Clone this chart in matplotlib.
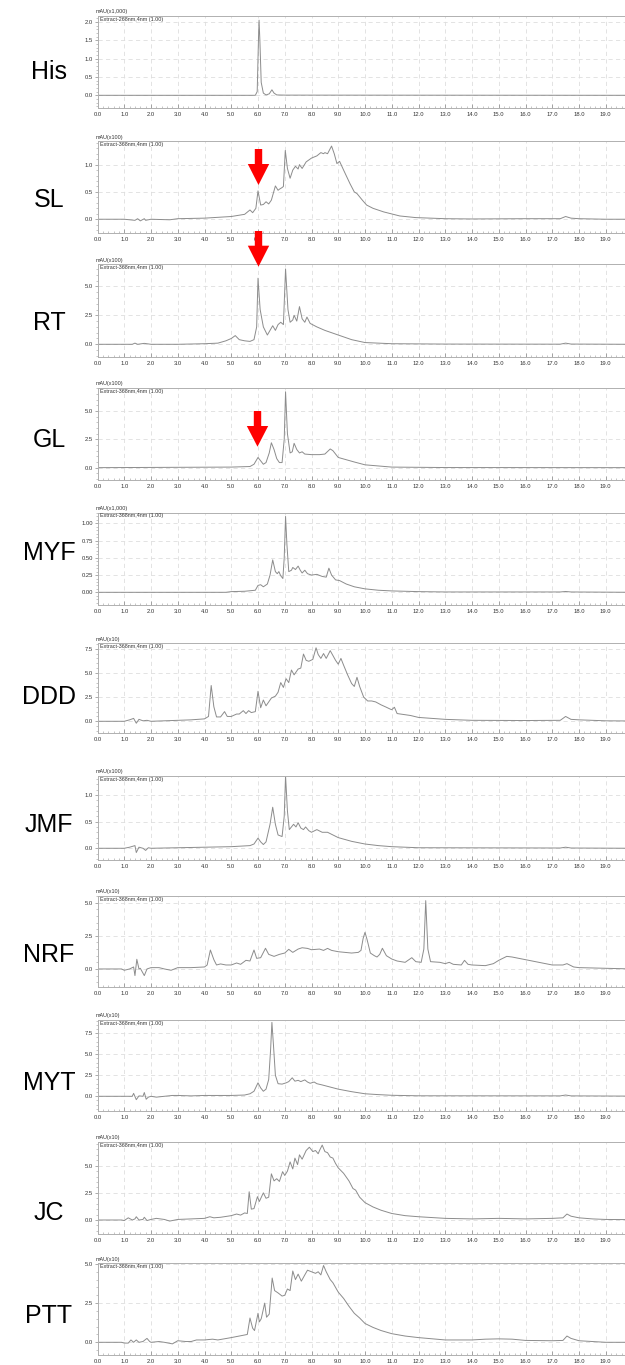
import matplotlib
matplotlib.use('Agg')
import matplotlib.pyplot as plt
from matplotlib.patches import Polygon
from matplotlib.ticker import MultipleLocator

plt.rcParams['font.family'] = ['Liberation Sans', 'DejaVu Sans']

W, H = 625, 1365

# Tên mẫu và nhãn thang đo
names = ['His', 'SL', 'RT', 'GL', 'MYF', 'DDD', 'JMF', 'NRF', 'MYT', 'JC', 'PTT']
scales = ['mAU(x1,000)', 'mAU(x100)', 'mAU(x100)', 'mAU(x100)', 'mAU(x1,000)', 'mAU(x10)',
          'mAU(x100)', 'mAU(x10)', 'mAU(x10)', 'mAU(x10)', 'mAU(x10)']
extracts = ['Extract-268nm,4nm (1.00)'] + ['Extract-368nm,4nm (1.00)'] * 10
ytick_vals = [[0, 0.5, 1.0, 1.5, 2.0], [0, 0.5, 1.0], [0, 2.5, 5.0], [0, 2.5, 5.0],
              [0, 0.25, 0.5, 0.75, 1.0], [0, 2.5, 5.0, 7.5], [0, 0.5, 1.0], [0, 2.5, 5.0],
              [0, 2.5, 5.0, 7.5], [0, 2.5, 5.0], [0, 2.5, 5.0]]
ytick_fmt = ['{:.1f}', '{:.1f}', '{:.1f}', '{:.1f}', '{:.2f}', '{:.1f}', '{:.1f}', '{:.1f}',
             '{:.1f}', '{:.1f}', '{:.1f}']
ylims = [(-0.333, 2.164), (-0.252, 1.429), (-1.07, 6.90), (-1.09, 7.06), (-0.184, 1.154),
         (-1.21, 8.06), (-0.22, 1.356), (-1.36, 5.5), (-1.75, 9.08), (-1.29, 7.21), (-0.81, 5.04)]

# Dữ liệu sắc ký đồ (thời gian, tín hiệu)
his_t = [0, 5.9, 5.97, 6.02, 6.04, 6.07, 6.12, 6.2, 6.3, 6.42, 6.52, 6.6, 6.7, 7.0, 20]
his_v = [0, 0, 0.1, 1.6, 2.05, 1.5, 0.35, 0.06, 0.01, 0.04, 0.15, 0.06, 0.01, 0.005, 0]

sl_t = [0, 1.0, 1.2, 1.4, 1.5, 1.6, 1.75, 1.8, 2.0, 2.7, 3.0, 4.0, 5.0, 5.5, 5.7, 5.8, 5.92, 6.0,
        6.1, 6.2, 6.3, 6.4, 6.5, 6.65, 6.75, 6.8, 6.9, 6.95, 7.02, 7.1, 7.2, 7.3, 7.4, 7.5, 7.55,
        7.65, 7.8, 8.0, 8.2, 8.35, 8.45, 8.5, 8.6, 8.75, 8.85, 8.95, 9.05, 9.2, 9.44, 9.6, 9.7,
        9.9, 10.06, 10.3, 10.7, 11.3, 11.9, 13.0, 14.0, 16.0, 17.3, 17.5, 17.7, 18.0, 19.0, 20]
sl_v = [0, 0, -0.01, -0.02, 0.01, -0.03, 0.01, -0.02, 0, -0.01, 0.01, 0.02, 0.05, 0.09, 0.17,
        0.12, 0.2, 0.52, 0.26, 0.27, 0.32, 0.28, 0.35, 0.61, 0.53, 0.55, 0.58, 0.6, 1.26, 0.93,
        0.75, 0.9, 0.97, 0.92, 1.0, 0.93, 1.05, 1.12, 1.16, 1.22, 1.2, 1.22, 1.2, 1.34, 1.2, 1.02,
        1.06, 0.9, 0.65, 0.5, 0.47, 0.35, 0.26, 0.2, 0.134, 0.06, 0.03, 0.01, 0.005, 0.01, 0.01,
        0.05, 0.02, 0.01, 0.0, 0]

rt_t = [0, 1.3, 1.4, 1.5, 1.75, 2.0, 3.0, 4.0, 4.5, 4.8, 5.0, 5.15, 5.3, 5.5, 5.7, 5.85, 5.95,
        6.0, 6.08, 6.2, 6.35, 6.45, 6.55, 6.65, 6.75, 6.85, 6.95, 7.03, 7.12, 7.2, 7.3, 7.35,
        7.45, 7.55, 7.65, 7.75, 7.83, 7.95, 8.2, 8.5, 8.75, 9.0, 9.5, 10.0, 11.0, 13.0, 17.3,
        17.5, 17.7, 20]
rt_v = [0, 0, 0.1, 0, 0.08, 0, 0, 0.05, 0.1, 0.3, 0.5, 0.75, 0.4, 0.3, 0.25, 0.4, 1.5, 5.7, 3.0,
        1.5, 0.8, 1.2, 1.6, 1.2, 1.7, 1.9, 1.7, 6.5, 3.0, 1.9, 2.1, 2.5, 2.0, 3.25, 2.2, 1.9,
        2.35, 1.8, 1.5, 1.2, 1.0, 0.8, 0.4, 0.15, 0.05, 0.02, 0.01, 0.1, 0.02, 0]

gl_t = [0, 5.0, 5.7, 5.85, 5.95, 6.0, 6.1, 6.2, 6.3, 6.42, 6.5, 6.6, 6.7, 6.8, 6.9, 6.98, 7.03,
        7.1, 7.2, 7.28, 7.35, 7.45, 7.55, 7.65, 7.75, 8.0, 8.3, 8.5, 8.7, 8.8, 9.0, 9.3, 9.6,
        10.0, 10.5, 11.0, 13.0, 20]
gl_v = [0, 0.05, 0.1, 0.3, 0.7, 0.9, 0.6, 0.3, 0.45, 1.3, 2.2, 1.6, 0.8, 0.45, 0.45, 2.5, 6.7,
        3.0, 1.3, 1.4, 2.15, 1.6, 1.3, 1.4, 1.2, 1.15, 1.15, 1.2, 1.65, 1.5, 0.9, 0.7, 0.5, 0.25,
        0.15, 0.05, 0.01, 0]

myf_t = [0, 4.8, 5.0, 5.5, 5.9, 6.0, 6.1, 6.2, 6.35, 6.45, 6.55, 6.65, 6.72, 6.78, 6.85, 6.93,
         6.98, 7.03, 7.08, 7.15, 7.25, 7.3, 7.4, 7.5, 7.58, 7.65, 7.75, 7.85, 8.0, 8.2, 8.4,
         8.55, 8.65, 8.75, 8.9, 9.05, 9.3, 9.6, 10.0, 10.5, 11.0, 12.0, 13.0, 17.3, 17.5, 17.7, 20]
myf_v = [0, 0, 0.01, 0.015, 0.03, 0.1, 0.11, 0.08, 0.12, 0.25, 0.47, 0.3, 0.27, 0.3, 0.24, 0.2,
         0.5, 1.1, 0.7, 0.3, 0.32, 0.36, 0.33, 0.38, 0.32, 0.28, 0.32, 0.27, 0.25, 0.26, 0.23,
         0.22, 0.35, 0.25, 0.18, 0.17, 0.12, 0.08, 0.05, 0.03, 0.02, 0.01, 0.005, 0.005, 0.012,
         0.005, 0]

ddd_t = [0, 1.0, 1.2, 1.35, 1.45, 1.55, 1.7, 1.85, 2.0, 3.0, 3.5, 4.0, 4.15, 4.25, 4.35, 4.45,
         4.6, 4.75, 4.85, 5.0, 5.2, 5.3, 5.45, 5.55, 5.65, 5.75, 5.9, 6.0, 6.1, 6.2, 6.3, 6.4,
         6.5, 6.65, 6.75, 6.85, 6.95, 7.05, 7.15, 7.25, 7.35, 7.5, 7.6, 7.7, 7.8, 7.9, 8.05,
         8.17, 8.25, 8.35, 8.45, 8.55, 8.7, 8.8, 8.9, 9.0, 9.1, 9.2, 9.35, 9.5, 9.6, 9.7, 9.8,
         9.95, 10.1, 10.25, 10.4, 10.6, 10.8, 10.95, 11.0, 11.1, 11.2, 11.7, 12.0, 13.0, 14.0,
         16.0, 17.3, 17.5, 17.7, 18.0, 19.0, 20]
ddd_v = [0, 0, 0.15, 0.3, -0.2, 0.2, 0.05, 0.1, 0, 0.1, 0.15, 0.25, 0.5, 3.7, 1.5, 0.45, 0.45,
         1.0, 0.5, 0.5, 0.75, 0.75, 1.1, 0.8, 1.1, 0.9, 1.0, 3.1, 1.4, 2.2, 1.6, 2.0, 2.4, 2.6,
         3.0, 4.0, 3.5, 4.4, 4.0, 5.3, 4.8, 5.4, 5.5, 6.95, 6.3, 6.2, 6.4, 7.6, 6.9, 6.5, 7.0,
         6.5, 7.3, 6.8, 6.3, 5.9, 6.5, 5.8, 4.8, 3.9, 3.6, 4.55, 3.6, 2.5, 2.1, 2.1, 2.0, 1.7,
         1.45, 1.25, 1.2, 1.45, 0.8, 0.6, 0.4, 0.2, 0.1, 0.08, 0.1, 0.5, 0.2, 0.15, 0.05, 0.03]

jmf_t = [0, 1.0, 1.2, 1.4, 1.45, 1.55, 1.7, 1.8, 1.9, 2.0, 3.0, 4.0, 5.0, 5.7, 5.85, 6.0, 6.1,
         6.2, 6.3, 6.45, 6.55, 6.65, 6.75, 6.9, 6.98, 7.03, 7.1, 7.17, 7.25, 7.33, 7.42, 7.5,
         7.6, 7.7, 7.78, 7.9, 8.0, 8.2, 8.4, 8.6, 8.8, 9.0, 9.5, 10.0, 10.5, 11.0, 12.0, 17.3,
         17.5, 17.7, 20]
jmf_v = [0, 0, 0.02, 0.05, -0.08, 0.02, 0.0, -0.04, 0.01, 0, 0.01, 0.02, 0.03, 0.05, 0.08, 0.19,
         0.12, 0.07, 0.12, 0.45, 0.77, 0.45, 0.25, 0.22, 0.6, 1.36, 0.7, 0.35, 0.4, 0.45, 0.4,
         0.48, 0.38, 0.35, 0.4, 0.33, 0.3, 0.35, 0.3, 0.3, 0.25, 0.2, 0.13, 0.08, 0.05, 0.03,
         0.01, 0.005, 0.02, 0.005, 0]

nrf_t = [0, 0.9, 1.0, 1.2, 1.35, 1.4, 1.47, 1.55, 1.6, 1.75, 1.85, 2.0, 2.3, 2.5, 2.75, 3.0, 3.5,
         4.0, 4.1, 4.22, 4.35, 4.45, 4.6, 4.8, 5.0, 5.2, 5.35, 5.55, 5.7, 5.85, 5.95, 6.1, 6.28,
         6.4, 6.6, 6.8, 7.0, 7.15, 7.3, 7.5, 7.65, 7.85, 8.0, 8.3, 8.45, 8.6, 8.75, 9.0, 9.5,
         9.75, 9.85, 9.93, 10.0, 10.08, 10.2, 10.35, 10.45, 10.55, 10.65, 10.8, 11.0, 11.2,
         11.5, 11.75, 11.9, 12.1, 12.2, 12.27, 12.35, 12.45, 12.8, 13.0, 13.15, 13.3, 13.6,
         13.72, 13.85, 14.0, 14.5, 14.8, 15.0, 15.3, 15.5, 16.0, 16.5, 17.0, 17.4, 17.55, 17.8,
         18.0, 19.0, 20]
nrf_v = [0, 0, -0.1, 0.0, 0.15, -0.5, 0.73, 0.0, 0.05, -0.5, 0.0, 0.1, 0.1, 0.0, -0.1, 0.1, 0.1,
         0.15, 0.3, 1.43, 0.7, 0.3, 0.38, 0.3, 0.3, 0.45, 0.35, 0.65, 0.6, 1.43, 0.8, 0.85, 1.56,
         1.1, 0.95, 1.1, 1.2, 1.48, 1.25, 1.5, 1.6, 1.55, 1.45, 1.5, 1.4, 1.55, 1.4, 1.3, 1.2,
         1.25, 1.4, 2.3, 2.76, 2.2, 1.2, 1.0, 0.9, 1.1, 1.56, 1.0, 0.75, 0.6, 0.5, 0.85, 0.55,
         0.5, 1.5, 5.15, 1.5, 0.55, 0.5, 0.4, 0.5, 0.35, 0.3, 0.65, 0.35, 0.3, 0.25, 0.4, 0.65,
         0.95, 0.9, 0.7, 0.5, 0.3, 0.3, 0.4, 0.15, 0.1, 0.05, 0.0]

myt_t = [0, 1.3, 1.35, 1.45, 1.55, 1.7, 1.75, 1.82, 1.9, 2.0, 2.2, 2.5, 2.8, 3.0, 3.5, 4.0, 5.0,
         5.5, 5.7, 5.85, 6.0, 6.1, 6.2, 6.3, 6.4, 6.47, 6.52, 6.58, 6.65, 6.75, 6.9, 7.05, 7.15,
         7.28, 7.38, 7.5, 7.6, 7.75, 7.85, 7.95, 8.1, 8.2, 8.4, 8.7, 9.0, 9.5, 10.0, 10.5, 11.0,
         12.0, 17.3, 17.5, 17.7, 20]
myt_v = [0, 0, 0.35, -0.4, 0.05, 0.0, 0.45, -0.35, -0.1, 0.0, -0.1, 0.0, 0.1, 0.1, 0.05, 0.1,
         0.1, 0.15, 0.3, 0.6, 1.6, 1.0, 0.6, 0.85, 2.0, 5.5, 8.8, 6.0, 2.5, 1.5, 1.45, 1.6, 1.75,
         2.2, 1.8, 1.9, 1.75, 1.95, 1.7, 1.55, 1.7, 1.5, 1.35, 1.1, 0.85, 0.55, 0.3, 0.2, 0.12,
         0.06, 0.05, 0.15, 0.05, 0.02]

jc_t = [0, 0.9, 1.0, 1.15, 1.3, 1.4, 1.45, 1.55, 1.7, 1.75, 1.85, 2.0, 2.2, 2.5, 2.7, 3.0, 3.5,
        4.0, 4.2, 4.35, 4.6, 5.0, 5.2, 5.35, 5.5, 5.6, 5.67, 5.75, 5.85, 5.98, 6.05, 6.2, 6.3,
        6.4, 6.5, 6.6, 6.7, 6.8, 6.92, 7.0, 7.1, 7.2, 7.3, 7.38, 7.48, 7.55, 7.65, 7.8, 7.92,
        8.05, 8.15, 8.25, 8.3, 8.4, 8.5, 8.6, 8.7, 8.8, 8.9, 9.0, 9.2, 9.4, 9.55, 9.65, 9.8,
        10.0, 10.3, 10.6, 11.0, 11.5, 12.0, 13.0, 14.0, 15.0, 16.0, 17.0, 17.4, 17.55, 17.7,
        18.0, 18.5, 19.0, 20]
jc_v = [0, 0, -0.05, 0.2, 0.0, 0.1, 0.3, 0.0, 0.05, 0.25, -0.05, 0.05, 0.15, 0.05, -0.1, 0.05,
        0.1, 0.15, 0.3, 0.2, 0.25, 0.4, 0.55, 0.45, 0.65, 0.6, 2.6, 1.0, 1.05, 2.15, 1.7, 2.5,
        2.0, 2.1, 4.25, 3.6, 3.8, 3.55, 4.45, 4.1, 4.5, 5.35, 4.7, 5.7, 5.1, 6.0, 5.6, 6.4, 6.7,
        6.3, 6.4, 6.1, 6.4, 6.9, 6.3, 6.2, 5.8, 5.7, 5.2, 4.8, 4.3, 3.6, 2.9, 2.75, 2.1, 1.6,
        1.2, 0.9, 0.6, 0.4, 0.3, 0.15, 0.1, 0.15, 0.1, 0.15, 0.2, 0.55, 0.35, 0.2, 0.1, 0.05,
        0.03]

ptt_t = [0, 0.9, 1.0, 1.15, 1.25, 1.35, 1.45, 1.55, 1.7, 1.85, 1.95, 2.0, 2.3, 2.5, 2.8, 3.0,
         3.3, 3.5, 3.7, 4.0, 4.3, 4.5, 5.0, 5.3, 5.6, 5.7, 5.8, 5.87, 6.0, 6.05, 6.12, 6.25,
         6.32, 6.42, 6.53, 6.62, 6.75, 6.9, 7.0, 7.1, 7.2, 7.3, 7.4, 7.5, 7.62, 7.75, 7.85, 8.0,
         8.15, 8.25, 8.35, 8.45, 8.55, 8.7, 8.8, 9.0, 9.2, 9.4, 9.6, 9.8, 10.0, 10.3, 10.6,
         11.0, 11.5, 12.0, 13.0, 14.0, 14.5, 15.0, 15.5, 16.0, 17.0, 17.4, 17.55, 17.7, 18.0,
         19.0, 20]
ptt_v = [0, 0, -0.05, -0.05, 0.15, 0.0, 0.15, 0.0, 0.05, 0.25, 0.05, 0.0, 0.05, 0.0, -0.1, 0.1,
         0.05, 0.05, 0.15, 0.15, 0.2, 0.15, 0.3, 0.4, 0.5, 1.55, 0.9, 0.75, 1.85, 1.3, 1.5, 2.5,
         1.6, 1.8, 4.1, 3.3, 3.15, 2.95, 3.0, 3.4, 3.3, 4.55, 4.0, 4.35, 3.9, 4.3, 4.6, 4.5, 4.4,
         4.5, 4.3, 4.9, 4.5, 4.0, 3.8, 3.2, 2.8, 2.3, 1.85, 1.55, 1.2, 0.95, 0.75, 0.55, 0.4,
         0.3, 0.15, 0.15, 0.2, 0.22, 0.2, 0.12, 0.1, 0.12, 0.4, 0.25, 0.1, 0.0, 0.0]

traces = [(his_t, his_v), (sl_t, sl_v), (rt_t, rt_v), (gl_t, gl_v), (myf_t, myf_v),
          (ddd_t, ddd_v), (jmf_t, jmf_v), (nrf_t, nrf_v), (myt_t, myt_v), (jc_t, jc_v),
          (ptt_t, ptt_v)]

# Vị trí khung (pixel): cạnh trên, cạnh dưới, vị trí tên mẫu
panel_top = [16, 141.2, 264.3, 387.7, 512.7, 643.3, 776, 896, 1020, 1141.7, 1263.3]
panel_bot = [107.5, 233, 356.7, 480, 605, 733, 860, 987, 1111, 1234, 1355]
name_y = [72, 200, 323, 440, 553, 697, 825, 955, 1083, 1213, 1316]

LEFT = 97.5
PX_PER_MIN = 26.75
XMAX = 20.0

fig = plt.figure(figsize=(W / 100, H / 100), dpi=100)

for i in range(len(names)):
    top, bot = panel_top[i], panel_bot[i]
    ax = fig.add_axes([LEFT / W, 1 - bot / H, XMAX * PX_PER_MIN / W, (bot - top) / H])
    t, v = traces[i]
    ax.plot(t, v, color='#8c8c8c', linewidth=0.7)
    ax.set_xlim(0, XMAX)
    ax.set_ylim(*ylims[i])

    ax.set_xticks(range(0, 20))
    ax.set_xticklabels([f'{x:.1f}' for x in range(0, 20)])
    ax.xaxis.set_minor_locator(MultipleLocator(0.2))
    ax.set_yticks(ytick_vals[i])
    ax.set_yticklabels([ytick_fmt[i].format(y) for y in ytick_vals[i]])
    step = ytick_vals[i][1] - ytick_vals[i][0]
    ax.yaxis.set_minor_locator(MultipleLocator(step / 5))

    ax.tick_params(axis='x', which='major', direction='in', length=3, width=0.5,
                   colors='#888888', labelcolor='#333333', labelsize=4.2, pad=3)
    ax.tick_params(axis='x', which='minor', direction='in', length=1.5, width=0.4,
                   colors='#999999')
    ax.tick_params(axis='y', which='major', direction='out', length=2.5, width=0.5,
                   colors='#888888', labelcolor='#333333', labelsize=4.2, pad=1)
    ax.tick_params(axis='y', which='minor', direction='out', length=1.2, width=0.4,
                   colors='#999999')

    ax.grid(True, which='major', color='#dedede', linestyle=(0, (5, 4)), linewidth=0.6)
    ax.set_axisbelow(True)
    for side in ['left', 'bottom', 'top']:
        ax.spines[side].set_color('#b0b0b0')
        ax.spines[side].set_linewidth(0.7)
    ax.spines['right'].set_visible(False)

    fig.text((LEFT - 2) / W, 1 - (top - 1.5) / H, scales[i], fontsize=3.9, color='#333333',
             ha='left', va='bottom')
    fig.text((LEFT + 2) / W, 1 - (top + 0.8) / H, extracts[i], fontsize=3.9, color='#333333',
             ha='left', va='top')
    fig.text(49 / W, 1 - name_y[i] / H, names[i], fontsize=18, color='black',
             ha='center', va='center')

# Mũi tên đỏ đánh dấu pic tại 6.0 phút (SL, RT, GL)
arrows = [(258.5, 149, 164, 185), (258.5, 231, 245.7, 266.7), (257.5, 411, 426, 446.7)]
for cx, y_top, y_head, y_tip in arrows:
    pts = [(cx - 3.7, y_top), (cx + 3.7, y_top), (cx + 3.7, y_head), (cx + 10.7, y_head),
           (cx, y_tip), (cx - 10.7, y_head), (cx - 3.7, y_head)]
    pts = [(x / W, 1 - y / H) for x, y in pts]
    fig.add_artist(Polygon(pts, closed=True, facecolor='#ff0000', edgecolor='none',
                           transform=fig.transFigure))

fig.savefig('out.png', dpi=100)
